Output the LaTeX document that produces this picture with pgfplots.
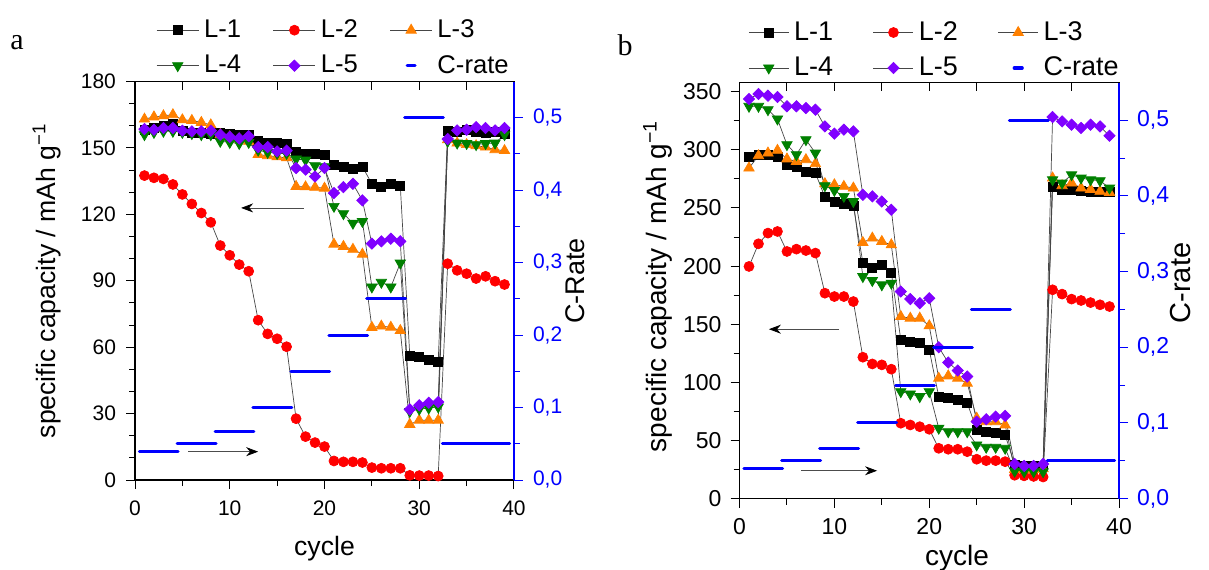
\documentclass[border=0pt]{standalone}
\usepackage{fontspec}
\setmainfont{Liberation Sans}
\newfontfamily\serifa{Liberation Serif}
\usepackage{pgfplots}
\usepackage{pgfplotstable}
\usetikzlibrary{arrows.meta}
\pgfplotsset{compat=1.18}
\definecolor{cLa}{RGB}{0,0,0}
\definecolor{cLb}{RGB}{255,0,0}
\definecolor{cLc}{RGB}{255,128,0}
\definecolor{cLd}{RGB}{0,128,0}
\definecolor{cLe}{RGB}{128,0,255}
\definecolor{cCR}{RGB}{0,0,255}

\pgfplotstableread{
c L1 L2 L3 L4 L5
1 158 137.5 163 156 158.5
2 159 136.5 164 157 158.2
3 160 136 164.5 157.5 159
4 161 133.5 165 157.5 159
5 157.5 129 162.7 157 157.8
6 157 124.7 162.4 156.5 157.5
7 157 120.6 161.5 156 157.5
8 156.5 116.4 160.4 156 157.8
9 157 105.9 156 153 156
10 156.5 101.5 155 152.5 155
11 156 97.3 154 152 154.3
12 156 94.3 153 152.5 155.3
13 153 72.2 147 149 150.4
14 152.5 66 146.5 148 150.4
15 152.5 63.8 146 147.5 148.4
16 152 60.2 145.5 147.5 148.8
17 148 27.7 132.6 145 140.9
18 147.5 19.6 132.4 144.5 140.2
19 147.5 16.9 132.2 142 137.1
20 147 15.1 131.8 141.5 140.9
21 142.4 8.6 106.5 123.6 129.6
22 141.4 8.2 105.5 120.3 132.3
23 140.5 8.2 104.2 116 133.8
24 141.5 7.9 102 116.8 126.3
25 133.8 5.6 68.9 87.2 106.8
26 132.6 5.3 69.5 89.3 107.8
27 133.8 5.3 69 87.2 109
28 132.9 5.3 67.5 98 107.8
29 56.3 2.1 25.1 31 31.9
30 55.7 2 27 32 33.8
31 54.4 2 27 32.5 34.9
32 53.4 1.8 27 33 35.2
33 157.9 97.7 153.7 153 154
34 157.4 94.7 152.2 152.2 157.9
35 158.2 93.2 151.5 152 158.2
36 157.4 91 151 151.5 159.4
37 157 92 150.4 152 159
38 157.4 89.8 149.2 152.2 157.9
39 156.4 88.3 148.8 156 159
}\dataA

\pgfplotstableread{
c L1 L2 L3 L4 L5
1 294.4 199.7 284.4 337.5 343.8
2 295.9 219.2 295 337.5 348.1
3 295.9 228.4 297.3 334.6 346.7
4 294.4 229.8 299.6 326.6 345.5
5 287.3 212.6 292.2 304.5 337.5
6 285.2 214.6 290.1 295.9 337.5
7 281.5 213.4 291.6 308.8 336
8 280.1 211.2 288.1 297.3 334.6
9 259.4 176.7 270.9 269.2 320.2
10 255.6 173.8 270 265.1 314
11 253.7 173.8 268.6 260 317.4
12 251.9 169.5 267.2 255.6 316
13 203.1 121.6 220.3 191 261.4
14 198.3 115.8 224.1 187.6 260
15 201.1 115 221.2 183.9 255.6
16 194.5 111.3 218.3 185.3 248.5
17 136.5 64.8 156.6 92 178.1
18 135.1 63.3 155.2 90 171.6
19 133.7 61.8 155.2 87.7 168.1
20 127.9 59.6 148.6 92 172.4
21 87.7 43.2 103.5 60.5 130.2
22 86.3 42.4 105.5 57.5 117
23 84.8 42.4 103.5 57.5 110.1
24 82.5 40.3 99.2 57.5 104.9
25 59 33.8 69.1 46.1 66.1
26 57.5 32.6 66.1 44.1 68.2
27 56.2 32.6 66.1 44.1 70.5
28 54.7 31.7 63.3 43.2 71.1
29 29 20 25 23.5 29.7
30 28 19.5 25 23 28
31 28 19 25 23 28
32 27 18.5 25.5 23 29.7
33 268 179.6 275.8 274.3 328.3
34 266 175.9 269.2 271.5 324.5
35 266 171.6 271.5 278.6 321.7
36 265 170.4 267.2 275.8 318.9
37 264 168.6 266 274.3 321.7
38 264 166.7 264.3 273.5 320.2
39 264 165.2 263.4 267.2 312.2
}\dataB

\pgfplotsset{
  sA/.style={draw=gray!55!black, line width=0.35pt, mark=square*, mark size=2.25pt,
    mark options={solid, fill=cLa, draw=cLa}},
  sB/.style={draw=gray!55!black, line width=0.35pt, mark=*, mark size=2.5pt,
    mark options={solid, fill=cLb, draw=cLb}},
  sC/.style={draw=gray!55!black, line width=0.35pt, mark=triangle*, mark size=3pt,
    mark options={solid, fill=cLc, draw=cLc}},
  sD/.style={draw=gray!55!black, line width=0.35pt, mark=triangle*, mark size=3pt,
    mark options={solid, fill=cLd, draw=cLd, rotate=180}},
  sE/.style={draw=gray!55!black, line width=0.35pt, mark=square*, mark size=2pt,
    mark options={solid, fill=cLe, draw=cLe, rotate=45}},
  crate/.style={cCR, line width=1.5pt, line cap=round, unbounded coords=jump},
  frame/.style={scale only axis, xmin=0, xmax=40,
    axis line style={line width=0.6pt},
    tick style={line width=0.5pt},
    major tick length=4.5pt, minor tick length=3pt},
}
\tikzset{annarrow/.style={draw=gray!60!black, line width=0.4pt,
  -{Stealth[length=6pt,width=4.5pt,color=black]}}}

\begin{document}
\begin{tikzpicture}
\path[use as bounding box] (0,0) rectangle (604.5pt,284.5pt);

% ---------------- panel a ----------------
\node[font=\serifa\fontsize{15}{17}\selectfont, anchor=center] at (8.5pt,263pt) {a};
\begin{axis}[frame,
  at={(67.5pt,44.5pt)}, anchor=south west, width=189.5pt, height=199.25pt,
  ymin=0, ymax=180,
  xtick={0,10,20,30,40}, minor xtick={5,15,25,35},
  ytick={0,30,60,90,120,150,180},
  minor ytick={10,20,40,50,70,80,100,110,130,140,160,170},
  xtick pos=lower, ytick pos=left, tick align=outside,
  tick style={black},
  ticklabel style={font=\fontsize{10.5}{12}\selectfont},
  xticklabel style={yshift=-2.5pt}, yticklabel style={xshift=-1.5pt},
  /pgf/number format/assume math mode=true,
  xlabel={cycle}, ylabel={specific capacity / mAh g\textsuperscript{−1}},
  label style={font=\fontsize{13.3}{15}\selectfont},
  xlabel style={at={(rel axis cs:0.5,-0.173)}, anchor=center},
  ylabel style={at={(rel axis cs:-0.232,0.5)}, anchor=center},
  legend image code/.code={\draw[mark repeat=2,mark phase=2] plot coordinates {(0pt,0pt) (10.5pt,0pt) (21pt,0pt)};},
  legend columns=3,
  legend cell align=left,
  legend style={at={(rel axis cs:0.0554,1.166)}, anchor=north west, draw=none, fill=none,
    inner sep=0pt, row sep=3.3pt, font=\fontsize{12.8}{14}\selectfont,
    nodes={inner xsep=2.5pt, inner ysep=2pt},
    /tikz/every even column/.append style={column sep=13.5pt}},
]
\addplot[sA] table[x=c,y=L1]{\dataA}; \addlegendentry{L-1}
\addplot[sB] table[x=c,y=L2]{\dataA}; \addlegendentry{L-2}
\addplot[sC] table[x=c,y=L3]{\dataA}; \addlegendentry{L-3}
\addplot[sD] table[x=c,y=L4]{\dataA}; \addlegendentry{L-4}
\addplot[sE] table[x=c,y=L5]{\dataA}; \addlegendentry{L-5}
\addlegendimage{legend image code/.code={\draw[cCR,line width=1.6pt,line cap=round] (8.5pt,0pt) -- (12.5pt,0pt);}}
\addlegendentry{C-rate}
\draw[annarrow] (axis cs:17.8,122.9) -- (axis cs:11.2,122.9);
\draw[annarrow] (axis cs:5.6,12.8) -- (axis cs:13.0,12.8);
\end{axis}
\begin{axis}[frame,
  at={(67.5pt,44.5pt)}, anchor=south west, width=189.5pt, height=199.25pt,
  ymin=0, ymax=1, hide y axis, axis x line*=top,
  xtick={5,10,...,35}, xticklabels={}, tick align=inside, tick style={black},
]
\end{axis}
\begin{axis}[frame,
  at={(67.5pt,44.5pt)}, anchor=south west, width=189.5pt, height=199.25pt,
  ymin=0, ymax=0.55, axis x line=none, axis y line*=right,
  ytick={0,0.1,0.2,0.3,0.4,0.5}, minor ytick={0.05,0.15,0.25,0.35,0.45},
  tick align=outside,
  y axis line style={cCR, line width=0.6pt}, ytick style={cCR},
  every minor tick/.append style={cCR},
  yticklabel style={text=cCR, font=\fontsize{10.5}{12}\selectfont, xshift=1.5pt,
    /pgf/number format/.cd, fixed, fixed zerofill, precision=1, use comma, assume math mode=true},
  ylabel={C-Rate},
  ylabel style={font=\fontsize{13.5}{15}\selectfont, at={(rel axis cs:1.161,0.5)}, anchor=center},
]
\addplot[crate] coordinates {
 (0.45,0.04) (4.55,0.04) (4.5,nan)
 (4.45,0.05) (8.55,0.05) (8.5,nan)
 (8.45,0.0667) (12.55,0.0667) (12.5,nan)
 (12.45,0.1) (16.55,0.1) (16.5,nan)
 (16.45,0.15) (20.55,0.15) (20.5,nan)
 (20.45,0.2) (24.55,0.2) (24.5,nan)
 (24.45,0.25) (28.55,0.25) (28.5,nan)
 (28.45,0.5) (32.55,0.5) (32.5,nan)
 (32.45,0.05) (39.55,0.05)};
\end{axis}

% ---------------- panel b ----------------
\node[font=\serifa\fontsize{15}{17}\selectfont, anchor=center] at (312.5pt,262pt) {b};
\begin{axis}[frame,
  at={(369.75pt,35.25pt)}, anchor=south west, width=189.75pt, height=208pt,
  ymin=0, ymax=358,
  xtick={0,10,20,30,40}, minor xtick={5,15,25,35},
  ytick={0,50,100,150,200,250,300,350},
  minor ytick={25,75,125,175,225,275,325},
  xtick pos=lower, ytick pos=left, tick align=outside,
  tick style={black},
  ticklabel style={font=\fontsize{11.5}{13}\selectfont},
  xticklabel style={yshift=-2pt}, yticklabel style={xshift=-1pt},
  /pgf/number format/assume math mode=true,
  every mark/.append style={scale=1.1},
  xlabel={cycle}, ylabel={specific capacity / mAh g\textsuperscript{−1}},
  label style={font=\fontsize{14}{16}\selectfont},
  xlabel style={at={(rel axis cs:0.573,-0.143)}, anchor=center},
  ylabel style={at={(rel axis cs:-0.215,0.51)}, anchor=center},
  legend image code/.code={\draw[mark repeat=2,mark phase=2] plot coordinates {(0pt,0pt) (10pt,0pt) (20pt,0pt)};},
  legend columns=3,
  legend cell align=left,
  legend style={at={(rel axis cs:0.0224,1.157)}, anchor=north west, draw=none, fill=none,
    inner sep=0pt, row sep=2.8pt, font=\fontsize{13.5}{15}\selectfont,
    nodes={inner xsep=2.5pt, inner ysep=2pt},
    /tikz/every even column/.append style={column sep=17.5pt}},
]
\addplot[sA] table[x=c,y=L1]{\dataB}; \addlegendentry{L-1}
\addplot[sB] table[x=c,y=L2]{\dataB}; \addlegendentry{L-2}
\addplot[sC] table[x=c,y=L3]{\dataB}; \addlegendentry{L-3}
\addplot[sD] table[x=c,y=L4]{\dataB}; \addlegendentry{L-4}
\addplot[sE] table[x=c,y=L5]{\dataB}; \addlegendentry{L-5}
\addlegendimage{legend image code/.code={\draw[cCR,line width=1.6pt,line cap=round] (8pt,0pt) -- (12pt,0pt);}}
\addlegendentry{C-rate}
\draw[annarrow] (axis cs:10.5,145.7) -- (axis cs:3.1,145.7);
\draw[annarrow] (axis cs:6.5,23.9) -- (axis cs:14.5,23.9);
\end{axis}
\begin{axis}[frame,
  at={(369.75pt,35.25pt)}, anchor=south west, width=189.75pt, height=208pt,
  ymin=0, ymax=1, hide y axis, axis x line*=top,
  xtick={5,10,...,35}, xticklabels={}, tick align=inside, tick style={black},
]
\end{axis}
\begin{axis}[frame,
  at={(369.75pt,35.25pt)}, anchor=south west, width=189.75pt, height=208pt,
  ymin=0, ymax=0.55, axis x line=none, axis y line*=right,
  ytick={0,0.1,0.2,0.3,0.4,0.5}, minor ytick={0.05,0.15,0.25,0.35,0.45},
  tick align=outside,
  y axis line style={cCR, line width=0.6pt}, ytick style={cCR},
  every minor tick/.append style={cCR},
  yticklabel style={text=cCR, font=\fontsize{11.5}{13}\selectfont, xshift=1pt,
    /pgf/number format/.cd, fixed, fixed zerofill, precision=1, use comma, assume math mode=true},
  ylabel={C-rate},
  ylabel style={font=\fontsize{14.5}{16}\selectfont, at={(rel axis cs:1.161,0.518)}, anchor=center},
]
\addplot[crate] coordinates {
 (0.45,0.04) (4.55,0.04) (4.5,nan)
 (4.45,0.05) (8.55,0.05) (8.5,nan)
 (8.45,0.0667) (12.55,0.0667) (12.5,nan)
 (12.45,0.1) (16.55,0.1) (16.5,nan)
 (16.45,0.15) (20.55,0.15) (20.5,nan)
 (20.45,0.2) (24.55,0.2) (24.5,nan)
 (24.45,0.25) (28.55,0.25) (28.5,nan)
 (28.45,0.5) (32.55,0.5) (32.5,nan)
 (32.45,0.05) (39.55,0.05)};
\end{axis}
\end{tikzpicture}
\end{document}
